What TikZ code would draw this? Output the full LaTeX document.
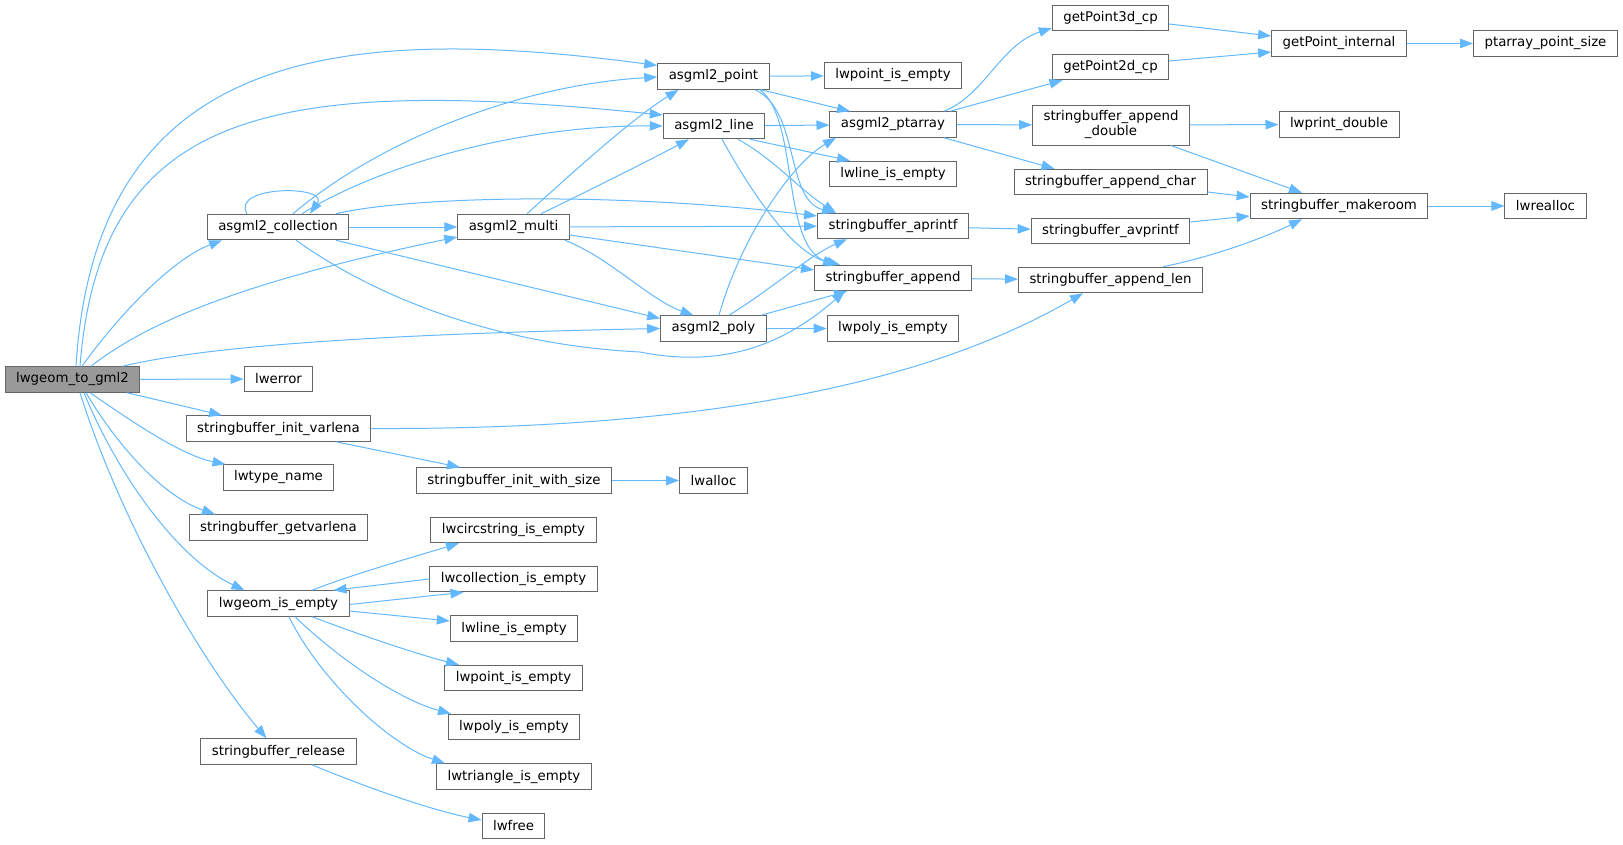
\documentclass[tikz,border=0pt]{standalone}
\usepackage{fontspec}
\setmainfont{DejaVu Sans}
\usepackage{xcolor}
\usepackage{tikz}
\usetikzlibrary{arrows.meta, positioning, calc}

\definecolor{edgeblue}{HTML}{63B8FF}
\definecolor{boxgray}{HTML}{666666}
\definecolor{rootgray}{HTML}{999999}

\begin{document}
\begin{tikzpicture}[
            x=1pt, y=-1pt,
            fn/.style={rectangle, draw=boxgray, line width=1pt, fill=white, minimum height=25.5pt,
                       inner xsep=11pt, inner ysep=2pt, font=\fontsize{13.33pt}{15pt}\selectfont},
            root fn/.style={fn, fill=rootgray},
            edge/.style={draw=edgeblue, line width=1pt, -{Triangle[length=13pt, width=9.5pt]}},
        ]
        \useasboundingbox (0,0) rectangle (1623,844);

        % Caller
        \node[root fn] (root) at (72.5,379.5) {lwgeom\_to\_gml2};

        % Second column
        \node[fn] (coll) at (278,227) {asgml2\_collection};
        \node[fn] (lwerror) at (278.5,379) {lwerror};
        \node[fn] (initvar) at (278.5,428.5) {stringbuffer\_init\_varlena};
        \node[fn] (typename) at (278.5,477.5) {lwtype\_name};
        \node[fn] (getvar) at (278.5,527.5) {stringbuffer\_getvarlena};
        \node[fn] (geomempty) at (278.5,603.5) {lwgeom\_is\_empty};
        \node[fn] (release) at (278.5,751.5) {stringbuffer\_release};

        % Third column
        \node[fn] (multi) at (513.5,227) {asgml2\_multi};
        \node[fn] (initsize) at (514,480.5) {stringbuffer\_init\_with\_size};
        \node[fn] (circempty) at (513.5,530) {lwcircstring\_is\_empty};
        \node[fn] (collempty) at (513.5,579) {lwcollection\_is\_empty};
        \node[fn] (lnempty2) at (514,628.5) {lwline\_is\_empty};
        \node[fn] (ptempty2) at (513.5,678) {lwpoint\_is\_empty};
        \node[fn] (plempty2) at (514,727) {lwpoly\_is\_empty};
        \node[fn] (triempty) at (514,776.5) {lwtriangle\_is\_empty};
        \node[fn] (lwfree) at (513.5,826) {lwfree};

        % Fourth column
        \node[fn] (point) at (713.5,76.5) {asgml2\_point};
        \node[fn] (line) at (714,126) {asgml2\_line};
        \node[fn] (poly) at (713.5,328.5) {asgml2\_poly};
        \node[fn] (lwalloc) at (713.5,480.5) {lwalloc};

        % Fifth column
        \node[fn] (ptempty) at (893,75.5) {lwpoint\_is\_empty};
        \node[fn] (ptarr) at (893,124.5) {asgml2\_ptarray};
        \node[fn] (lnempty) at (893,174) {lwline\_is\_empty};
        \node[fn] (aprintf) at (893,226) {stringbuffer\_aprintf};
        \node[fn] (append) at (893,278) {stringbuffer\_append};
        \node[fn] (plempty) at (893,328.5) {lwpoly\_is\_empty};

        % Sixth column
        \node[fn] (get3d) at (1110.5,18) {getPoint3d\_cp};
        \node[fn] (get2d) at (1110.5,67) {getPoint2d\_cp};
        \node[fn, minimum height=40pt, align=center] (appdbl) at (1111,125) {stringbuffer\_append\\\_double};
        \node[fn] (appchar) at (1110.5,182) {stringbuffer\_append\_char};
        \node[fn] (avprintf) at (1110.5,231) {stringbuffer\_avprintf};
        \node[fn] (applen) at (1110.5,280) {stringbuffer\_append\_len};

        % Right columns
        \node[fn] (getint) at (1339,43.5) {getPoint\_internal};
        \node[fn] (lwprint) at (1339,124.5) {lwprint\_double};
        \node[fn] (makeroom) at (1339,206) {stringbuffer\_makeroom};
        \node[fn] (ptsize) at (1545.5,43.5) {ptarray\_point\_size};
        \node[fn] (lwrealloc) at (1545.5,206) {lwrealloc};

        % Straight horizontal calls
        \foreach \a/\b in {root/lwerror, coll/multi, multi/aprintf, point/ptempty, line/ptarr,
                           poly/plempty, ptarr/appdbl, getint/ptsize, appdbl/lwprint,
                           makeroom/lwrealloc, aprintf/avprintf, append/applen, initsize/lwalloc}
            \draw[edge] (\a) -- (\b);

        % Calls from lwgeom_to_gml2
        \draw[edge] ([xshift=3.5pt]root.north) .. controls (95,60) and (320,20) .. ([yshift=11pt]point.west);
        \draw[edge] ([xshift=7.5pt]root.north) .. controls (100,110) and (270,75) .. ([yshift=11pt]line.west);
        \draw[edge] ([xshift=9.5pt]root.north) .. controls (115,320) and (170,260) .. ([xshift=-56pt]coll.south);
        \draw[edge] ([xshift=18.5pt]root.north) .. controls (150,320) and (250,280) .. ([yshift=-10pt]multi.west);
        \draw[edge] ([xshift=50pt]root.north) .. controls (190,350) and (330,335) .. (poly.west);
        \draw[edge] ([xshift=54.5pt]root.south) -- ([xshift=-56.5pt]initvar.north);
        \draw[edge] ([xshift=17.5pt]root.south) .. controls (130,420) and (180,455) .. ([xshift=-53pt]typename.north);
        \draw[edge] ([xshift=13.5pt]root.south) .. controls (120,450) and (165,497) .. ([xshift=-63.5pt]getvar.north);
        \draw[edge] ([xshift=11.5pt]root.south) .. controls (120,480) and (180,560) .. ([xshift=-34pt]geomempty.north);
        \draw[edge] ([xshift=7.5pt]root.south) .. controls (120,520) and (200,660) .. ([xshift=-12pt]release.north);

        % Calls from asgml2_collection
        \draw[edge] ([xshift=-31pt]coll.north) .. controls (230,185) and (330,185) .. ([xshift=32pt]coll.north);
        \draw[edge] ([xshift=15pt]coll.north) .. controls (380,140) and (520,85) .. ([yshift=-0.5pt]point.west);
        \draw[edge] ([xshift=24pt]coll.north) .. controls (380,165) and (520,125) .. (line.west);
        \draw[edge] ([xshift=58pt]coll.north) .. controls (400,198) and (600,190) .. ([yshift=10pt]aprintf.west);
        \draw[edge] ([xshift=58pt]coll.south) -- ([yshift=10pt]poly.west);
        \draw[edge] ([xshift=18pt]coll.south) .. controls (380,300) and (500,345) .. (640,352)
            .. controls (740,372) and (800,330) .. ([xshift=-48pt]append.south);

        % Calls from asgml2_multi
        \draw[edge] ([xshift=13.5pt]multi.north) .. controls (570,175) and (630,120) .. ([xshift=-35pt]point.south);
        \draw[edge] ([xshift=27.5pt]multi.north) .. controls (590,190) and (650,160) .. ([xshift=-25pt]line.south);
        \draw[edge] ([yshift=-8pt]multi.east) -- ([yshift=8pt]append.west);
        \draw[edge] ([xshift=51.5pt]multi.south) .. controls (610,258) and (650,300) .. ([xshift=-20pt]poly.north);

        % Calls from asgml2_point, asgml2_line, asgml2_poly
        \draw[edge] ([xshift=47.5pt]point.south) -- ([xshift=-43pt]ptarr.north);
        \draw[edge] ([xshift=41.5pt]point.south) .. controls (800,110) and (785,200) .. ([xshift=-58pt]aprintf.north);
        \draw[edge] ([xshift=46.5pt]point.south) .. controls (800,120) and (780,250) .. ([xshift=-53pt]append.north);
        \draw[edge] ([xshift=36pt]line.south) -- ([xshift=-43pt]lnempty.north);
        \draw[edge] ([xshift=24pt]line.south) .. controls (775,160) and (800,190) .. ([xshift=-57pt]aprintf.north);
        \draw[edge] ([xshift=8pt]line.south) .. controls (750,190) and (790,250) .. ([xshift=-57pt]append.north);
        \draw[edge] ([xshift=5.5pt]poly.north) .. controls (740,240) and (790,165) .. ([xshift=-57pt]ptarr.south);
        \draw[edge] ([xshift=15.5pt]poly.north) .. controls (770,290) and (810,255) .. ([xshift=-46pt]aprintf.south);
        \draw[edge] ([xshift=47.5pt]poly.north) -- ([xshift=-46pt]append.south);

        % Calls from asgml2_ptarray and the string buffer
        \draw[edge] ([xshift=51pt]ptarr.north) .. controls (985,95) and (1000,45) .. ([yshift=-10pt]get3d.west);
        \draw[edge] ([xshift=57pt]ptarr.north) -- ([xshift=-48pt]get2d.south);
        \draw[edge] ([xshift=51pt]ptarr.south) -- ([xshift=-56pt]appchar.north);
        \draw[edge] ([yshift=-6pt]get3d.east) -- ([yshift=7.5pt]getint.west);
        \draw[edge] ([yshift=6pt]get2d.east) -- ([yshift=-8.5pt]getint.west);
        \draw[edge] ([xshift=60pt]appdbl.south) -- ([xshift=-37pt]makeroom.north);
        \draw[edge] ([yshift=-10pt]appchar.east) -- ([yshift=9pt]makeroom.west);
        \draw[edge] ([yshift=9pt]avprintf.east) -- ([yshift=-10pt]makeroom.west);
        \draw[edge] ([xshift=52.5pt]applen.north) .. controls (1220,255) and (1270,235) .. ([xshift=-37pt]makeroom.south);
        \draw[edge] (initvar.east) .. controls (750,430) and (950,370) .. ([xshift=-27.5pt]applen.south);
        \draw[edge] ([xshift=57.5pt]initvar.south) -- ([xshift=-54pt]initsize.north);
        \draw[edge] ([xshift=33.5pt]release.south) .. controls (360,785) and (430,810) .. ([yshift=6pt]lwfree.west);

        % Calls from lwgeom_is_empty
        \draw[edge] ([xshift=33.5pt]geomempty.north) .. controls (350,575) and (420,555) .. ([xshift=-54.5pt]circempty.south);
        \draw[edge] (collempty.west) -- ([xshift=55pt]geomempty.north);
        \draw[edge] ([yshift=-1pt]geomempty.east) -- ([xshift=-50pt]collempty.south);
        \draw[edge] ([yshift=-7.5pt]geomempty.east) -- ([yshift=7.5pt]lnempty2.west);
        \draw[edge] ([xshift=33.5pt]geomempty.south) .. controls (360,635) and (420,655) .. ([xshift=-54.5pt]ptempty2.north);
        \draw[edge] ([xshift=16.5pt]geomempty.south) .. controls (340,660) and (400,700) .. ([xshift=-63pt]plempty2.north);
        \draw[edge] ([xshift=10.5pt]geomempty.south) .. controls (320,680) and (390,745) .. ([xshift=-69pt]triempty.north);
        \end{tikzpicture}
\end{document}
